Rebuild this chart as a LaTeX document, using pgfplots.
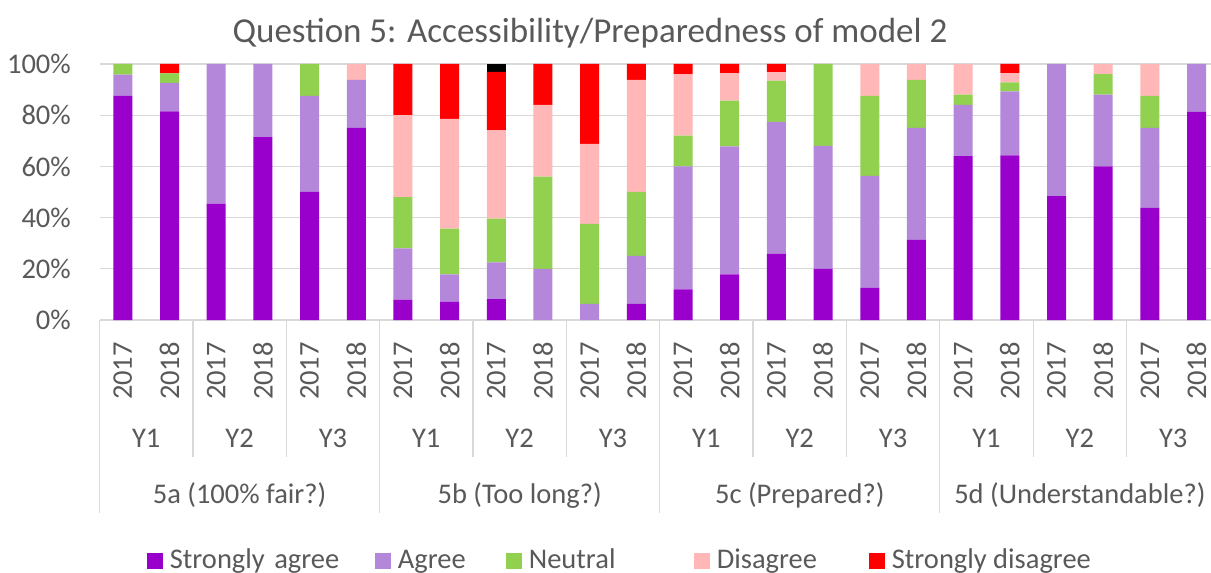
\documentclass[border=0pt]{standalone}
\usepackage{fontspec}
\setmainfont{Carlito}
\usepackage{pgfplots}
\usepackage{pgfplotstable}
\pgfplotsset{compat=1.18}
\definecolor{txt}{HTML}{595959}
\definecolor{gridgray}{HTML}{D9D9D9}
\definecolor{csa}{HTML}{9900CC}
\definecolor{cag}{HTML}{B487DA}
\definecolor{cne}{HTML}{92D050}
\definecolor{cdi}{HTML}{FFB7B7}
\definecolor{csd}{HTML}{FF0000}
\newcommand{\lab}{\fontsize{28.5bp}{30bp}\selectfont}
\newcommand{\ttl}{\fontsize{35bp}{38bp}\selectfont}
\pgfplotstableread{
x sa ag ne di sd na
0 87.5 8.33 4.17 0 0 0
1 81.48 11.11 3.70 0 3.71 0
2 45.45 54.55 0 0 0 0
3 71.43 28.57 0 0 0 0
4 50 37.5 12.5 0 0 0
5 75 18.75 0 6.25 0 0
6 8 20 20 32 20 0
7 7.14 10.71 17.86 42.86 21.43 0
8 8.2 14.3 17.1 34.5 22.8 3.1
9 0 20 36 28 16 0
10 0 6.25 31.25 31.25 31.25 0
11 6.25 18.75 25 43.75 6.25 0
12 12 48 12 24 4 0
13 17.86 50 17.86 10.71 3.57 0
14 25.81 51.61 16.13 3.23 3.22 0
15 20 48 32 0 0 0
16 12.5 43.75 31.25 12.5 0 0
17 31.25 43.75 18.75 6.25 0 0
18 64 20 4 12 0 0
19 64.29 25 3.57 3.57 3.57 0
20 48.39 51.61 0 0 0 0
21 60 28 8 4 0 0
22 43.75 31.25 12.5 12.5 0 0
23 81.25 18.75 0 0 0 0
}\datatable
\tikzset{lbl/.style={anchor=base, font=\lab, text=txt, inner sep=0pt},
  sep/.style={gridgray, line width=1.3bp}}
\begin{document}
\begin{tikzpicture}
\begin{axis}[
  at={(99.5bp,253bp)}, anchor=south west,
  scale only axis, width=1120.4bp, height=256bp,
  xmin=-0.5, xmax=23.5, ymin=0, ymax=100,
  ybar stacked, bar width=19bp,
  axis line style={draw=none},
  major tick length=0pt,
  ymajorgrids, grid style={draw=gridgray, line width=1.3bp},
  ytick={0,20,40,60,80,100},
  yticklabels={0\%,20\%,40\%,60\%,80\%,100\%},
  yticklabel style={anchor=east, inner sep=0pt, font=\lab, text=txt},
  yticklabel shift=28.5bp,
  xtick={0,...,23},
  xticklabels={2017,2018,2017,2018,2017,2018,2017,2018,2017,2018,2017,2018,2017,2018,2017,2018,2017,2018,2017,2018,2017,2018,2017,2018},
  xticklabel style={rotate=90, anchor=east, inner sep=0pt, font=\lab, text=txt},
  xticklabel shift=22bp,
  clip=false,
  legend columns=5,
  legend image code/.code={\fill[#1] (0bp,0bp) rectangle (16bp,16bp);},
  legend style={at={(axis description cs:0.0421,-0.936)}, anchor=west,
    draw=none, fill=none, inner sep=0pt, column sep=0pt,
    nodes={inner sep=0pt, font=\lab, text=txt, anchor=base west, align=left},
    /tikz/column 1/.style={column sep=7bp},
    /tikz/column 3/.style={column sep=7bp},
    /tikz/column 5/.style={column sep=7bp},
    /tikz/column 7/.style={column sep=7bp},
    /tikz/column 9/.style={column sep=7bp},
    /tikz/column 2/.style={text width=205bp},
    /tikz/column 4/.style={text width=108bp},
    /tikz/column 6/.style={text width=165bp},
    /tikz/column 8/.style={text width=152bp},
  },
  legend entries={\mbox{Strongly agree}, Agree, Neutral, Disagree, \mbox{Strongly disagree}},
]
\addplot[fill=csa, draw=none] table[x=x,y=sa]{\datatable};
\addplot[fill=cag, draw=none] table[x=x,y=ag]{\datatable};
\addplot[fill=cne, draw=none] table[x=x,y=ne]{\datatable};
\addplot[fill=cdi, draw=none] table[x=x,y=di]{\datatable};
\addplot[fill=csd, draw=none] table[x=x,y=sd]{\datatable};
\addplot[fill=black, draw=none] table[x=x,y=na]{\datatable};
% separators
\pgfplotsinvokeforeach{1.5,3.5,7.5,9.5,13.5,15.5,19.5,21.5}{
  \draw[sep] (axis cs:#1,0) -- ([yshift=-137bp]axis cs:#1,0);
}
\pgfplotsinvokeforeach{-0.5,5.5,11.5,17.5,23.5}{
  \draw[sep] (axis cs:#1,0) -- ([yshift=-193bp]axis cs:#1,0);
}
\node[lbl] at ([yshift=-127.7bp]axis cs:0.5,0) {Y1};
\node[lbl] at ([yshift=-127.7bp]axis cs:2.5,0) {Y2};
\node[lbl] at ([yshift=-127.7bp]axis cs:4.5,0) {Y3};
\node[lbl] at ([yshift=-127.7bp]axis cs:6.5,0) {Y1};
\node[lbl] at ([yshift=-127.7bp]axis cs:8.5,0) {Y2};
\node[lbl] at ([yshift=-127.7bp]axis cs:10.5,0) {Y3};
\node[lbl] at ([yshift=-127.7bp]axis cs:12.5,0) {Y1};
\node[lbl] at ([yshift=-127.7bp]axis cs:14.5,0) {Y2};
\node[lbl] at ([yshift=-127.7bp]axis cs:16.5,0) {Y3};
\node[lbl] at ([yshift=-127.7bp]axis cs:18.5,0) {Y1};
\node[lbl] at ([yshift=-127.7bp]axis cs:20.5,0) {Y2};
\node[lbl] at ([yshift=-127.7bp]axis cs:22.5,0) {Y3};
\node[lbl] at ([yshift=-183.3bp]axis cs:2.5,0) {5a (100\% fair?)};
\node[lbl] at ([yshift=-183.3bp]axis cs:8.5,0) {5b (Too long?)};
\node[lbl] at ([yshift=-183.3bp]axis cs:14.5,0) {5c (Prepared?)};
\node[lbl] at ([yshift=-183.3bp]axis cs:20.5,0) {5d (Understandable?)};
\end{axis}
\node[anchor=base, font=\ttl, text=txt, inner sep=0pt] at (590bp,530bp) {Question 5: Accessibility/Preparedness of model 2};
\pgfresetboundingbox
\useasboundingbox (0,0) rectangle (1211bp,573bp);
\end{tikzpicture}
\end{document}
